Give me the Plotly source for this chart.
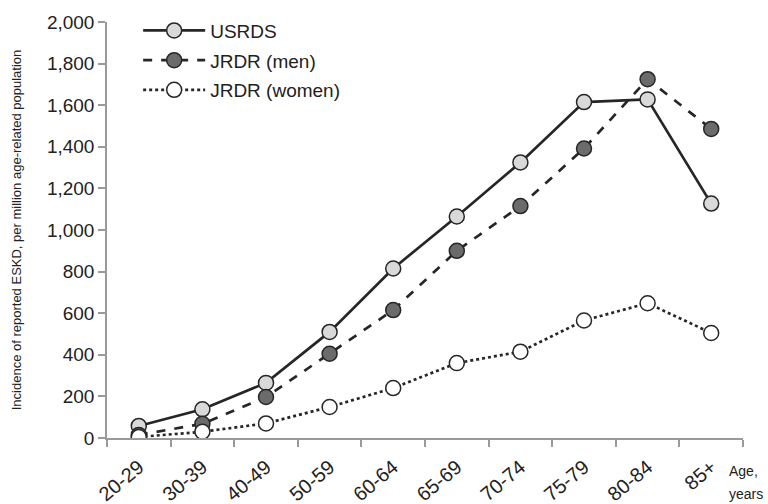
import plotly.graph_objects as go

# Age groups and incidence per million age-related population
age_groups = ["20-29", "30-39", "40-49", "50-59", "60-64", "65-69", "70-74", "75-79", "80-84", "85+"]
usrds = [58, 138, 265, 510, 815, 1065, 1325, 1615, 1628, 1127]
jrdr_men = [15, 68, 197, 405, 615, 900, 1115, 1392, 1725, 1486]
jrdr_women = [5, 30, 70, 149, 240, 360, 415, 565, 648, 505]

ink = "#262626"
axis_grey = "#9a9a9a"
text_col = "#222222"

fig = go.Figure()

series = [
    ("USRDS", usrds, "solid", "#d9d9d9"),
    ("JRDR (men)", jrdr_men, "dash", "#6b6b6b"),
    ("JRDR (women)", jrdr_women, "dot", "#ffffff"),
]
for name, vals, dash, fill in series:
    fig.add_trace(go.Scatter(
        x=age_groups, y=vals, name=name, legendgroup=name, mode="lines+markers",
        line=dict(color=ink, width=2.7, dash=dash),
        marker=dict(size=15, color=fill, line=dict(color=ink, width=1.5)),
    ))

fig.update_layout(
    width=768, height=504,
    margin=dict(l=107, r=25, t=18, b=66),
    paper_bgcolor="white", plot_bgcolor="white",
    font=dict(family="Liberation Sans, Arial, sans-serif", color=text_col),
    showlegend=True,
    legend=dict(
        x=0.049, y=1.025, xanchor="left", yanchor="top",
        font=dict(size=19, color=text_col),
        bgcolor="rgba(0,0,0,0)", itemwidth=62, tracegroupgap=2,
    ),
    xaxis=dict(
        type="category", range=[-0.5, 9.5], automargin=False,
        tickson="boundaries", ticks="outside", ticklen=7, tickcolor=axis_grey, tickwidth=1.5,
        showline=True, linecolor=axis_grey, linewidth=1.5,
        showgrid=False, zeroline=False,
        tickangle=-40, ticklabelstandoff=8, tickfont=dict(size=20, color=text_col),
    ),
    yaxis=dict(
        range=[0, 2000], tickvals=[0, 200, 400, 600, 800, 1000, 1200, 1400, 1600, 1800, 2000],
        automargin=False,
        tickformat=",", ticks="outside", ticklen=7, tickcolor=axis_grey, tickwidth=1.5,
        showline=True, linecolor=axis_grey, linewidth=1.5,
        showgrid=False, zeroline=False,
        tickfont=dict(size=19, color=text_col),
        title=dict(text="Incidence of reported ESKD, per million age-related population",
                   font=dict(size=13, color=text_col), standoff=22),
    ),
)

for label, dy in (("Age,", -0.055), ("years", -0.11)):
    fig.add_annotation(
        text=label, xref="paper", yref="paper", x=1.0, y=dy,
        xanchor="left", yanchor="top", showarrow=False, align="left",
        font=dict(size=14, color=text_col), xshift=-16,
    )

fig.write_html("out.html")
